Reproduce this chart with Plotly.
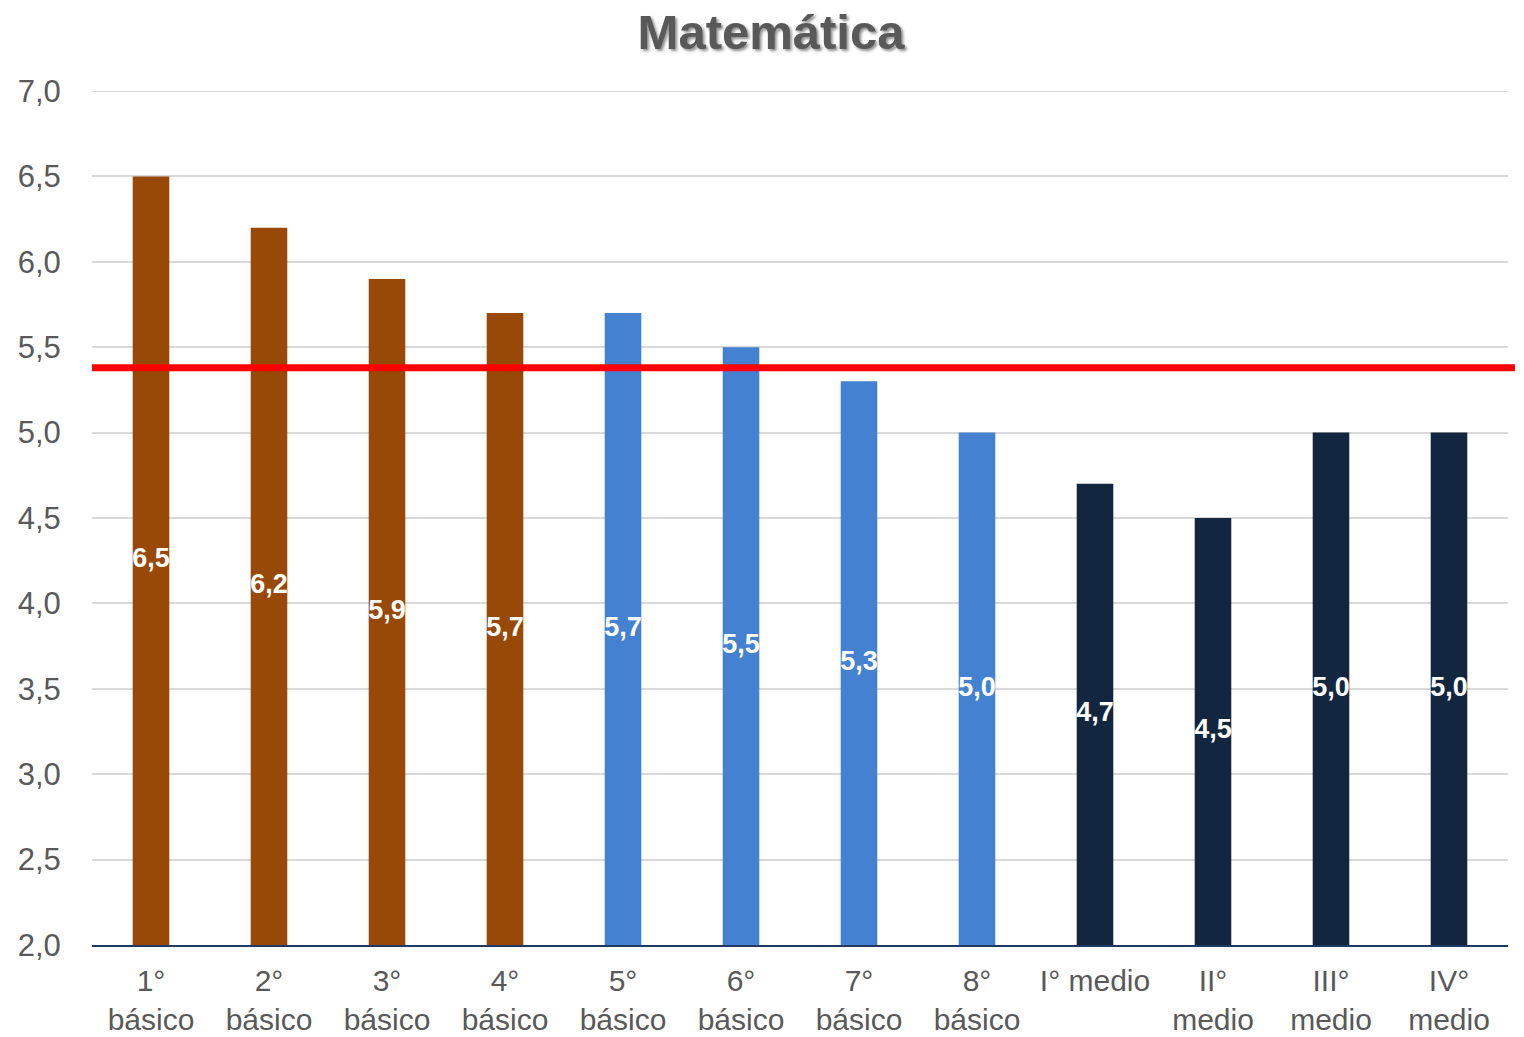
import plotly.graph_objects as go

categories = ["1°<br>básico", "2°<br>básico", "3°<br>básico", "4°<br>básico",
              "5°<br>básico", "6°<br>básico", "7°<br>básico", "8°<br>básico",
              "I° medio", "II°<br>medio", "III°<br>medio", "IV°<br>medio"]
values = [6.5, 6.2, 5.9, 5.7, 5.7, 5.5, 5.3, 5.0, 4.7, 4.5, 5.0, 5.0]
colors = ["#984807"] * 4 + ["#4481D0"] * 4 + ["#12263F"] * 4
reference_value = 5.38
y_base = 2.0
y_max = 7.0
y_ticks = [2.0, 2.5, 3.0, 3.5, 4.0, 4.5, 5.0, 5.5, 6.0, 6.5, 7.0]

font_family = "Liberation Sans, Arial, sans-serif"

fig = go.Figure()
fig.add_trace(go.Bar(
    x=categories,
    y=[v - y_base for v in values],
    base=y_base,
    marker=dict(color=colors, line=dict(width=0)),
    width=0.31,
    hoverinfo="skip",
))
fig.add_trace(go.Scatter(
    x=categories,
    y=[(v + y_base) / 2 for v in values],
    mode="text",
    text=[f"{v:.1f}".replace(".", ",") for v in values],
    textposition="middle center",
    textfont=dict(family=font_family, size=27, color="white", weight="bold"),
    cliponaxis=False,
))

# top gridline at 7,0 (sits on the plot edge)
fig.add_shape(type="line", xref="paper", yref="y", x0=0, x1=1,
              y0=y_max, y1=y_max,
              line=dict(color="#D9D9D9", width=2), layer="below")

fig.add_shape(type="line", xref="paper", yref="y", x0=0, x1=1.0049,
              y0=reference_value, y1=reference_value,
              line=dict(color="#FF0000", width=7), layer="above")

fig.update_layout(
    width=1508, height=1029,
    margin=dict(l=84, r=8, t=83, b=92, autoexpand=False),
    paper_bgcolor="white", plot_bgcolor="white",
    separators=",.",
    showlegend=False,
    bargap=0.69,
    title=dict(text="<b>Matemática</b>", x=0.506, xanchor="center", y=0.977, yanchor="middle",
               automargin=False,
               font=dict(family=font_family, size=49, color="#595959",
                         shadow="2px 2px 3px rgba(0,0,0,0.45)")),
    font=dict(family=font_family, color="#595959"),
)
fig.update_yaxes(range=[y_base, y_max], tickvals=y_ticks, tickformat=".1f",
                 showgrid=True, gridcolor="#D9D9D9", gridwidth=2,
                 zeroline=False, showline=False, automargin=False,
                 ticks="outside", ticklen=24, tickcolor="rgba(0,0,0,0)",
                 tickfont=dict(size=31, color="#595959"))
fig.update_xaxes(range=[-0.5, len(categories) - 0.5],
                 showline=True, linecolor="#1F3864", linewidth=2, automargin=False,
                 ticks="outside", ticklen=8, tickcolor="rgba(0,0,0,0)",
                 tickfont=dict(size=30, color="#595959"))

fig.write_html("out.html")
